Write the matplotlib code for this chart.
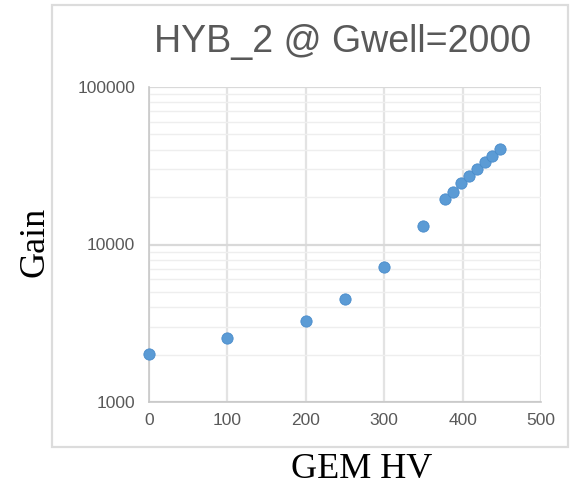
import matplotlib
matplotlib.use("Agg")
import matplotlib.pyplot as plt
from matplotlib.patches import Rectangle
from matplotlib.ticker import FixedLocator, LogLocator, NullFormatter, FuncFormatter

# GEM HV scan at fixed well gain
gem_hv = [0, 100, 200, 250, 300, 350, 378, 388, 398, 408, 418, 428, 438, 448]
gain = [2020, 2540, 3280, 4490, 7230, 13200, 19400, 21500, 24400, 27100, 30000, 33200, 36300, 40200]

x_ticks = [0, 100, 200, 300, 400, 500]
y_ticks = [1000, 10000, 100000]

fig = plt.figure(figsize=(5.7, 4.88), dpi=100)
ax = fig.add_axes([149 / 570, 1 - 402 / 488, 392 / 570, 315 / 488])

# light frame around the whole chart
fig.patches.append(Rectangle((52 / 570, 1 - 447 / 488), 516 / 570, 442 / 488,
                             transform=fig.transFigure, fill=False,
                             edgecolor="#dcdcdc", linewidth=1.6))

ax.scatter(gem_hv, gain, s=66, color="#5b9bd5", edgecolors="#4a8ccb",
           linewidths=0.6, zorder=3, clip_on=False)

ax.set_yscale("log")
ax.set_xlim(0, 500)
ax.set_ylim(1000, 100000)
ax.xaxis.set_major_locator(FixedLocator(x_ticks))
ax.yaxis.set_major_locator(FixedLocator(y_ticks))
ax.yaxis.set_minor_locator(LogLocator(base=10, subs=range(2, 10)))
ax.yaxis.set_minor_formatter(NullFormatter())
ax.yaxis.set_major_formatter(FuncFormatter(lambda v, p: f"{int(v)}"))

ax.grid(True, axis="x", which="major", color="#e3e3e3", linewidth=1.6)
ax.grid(True, axis="y", which="major", color="#d9d9d9", linewidth=1.6)
ax.grid(True, axis="y", which="minor", color="#eeeeee", linewidth=1.0)
ax.set_axisbelow(True)

for side in ["top", "right"]:
    ax.spines[side].set_visible(False)
for side in ["left", "bottom"]:
    ax.spines[side].set_color("#c8c8c8")
    ax.spines[side].set_linewidth(1.2)

ax.tick_params(axis="both", which="both", length=0, labelsize=12.5,
               labelcolor="#595959")
ax.tick_params(axis="y", pad=10)
ax.tick_params(axis="x", pad=8)
for lbl in ax.get_xticklabels() + ax.get_yticklabels():
    lbl.set_family("Liberation Sans")

fig.text(343 / 570, 1 - 42 / 488, "HYB_2 @ Gwell=2000", ha="center", va="center",
         fontsize=27, color="#595959", family="Liberation Sans")
fig.text(362 / 570, 1 - 470 / 488, "GEM HV", ha="center", va="center",
         fontsize=26, color="black", family="Liberation Serif")
fig.text(35 / 570, 1 - 242 / 488, "Gain", ha="center", va="center", rotation=90,
         fontsize=26, color="black", family="Liberation Serif")

fig.savefig("out.png", dpi=100)
